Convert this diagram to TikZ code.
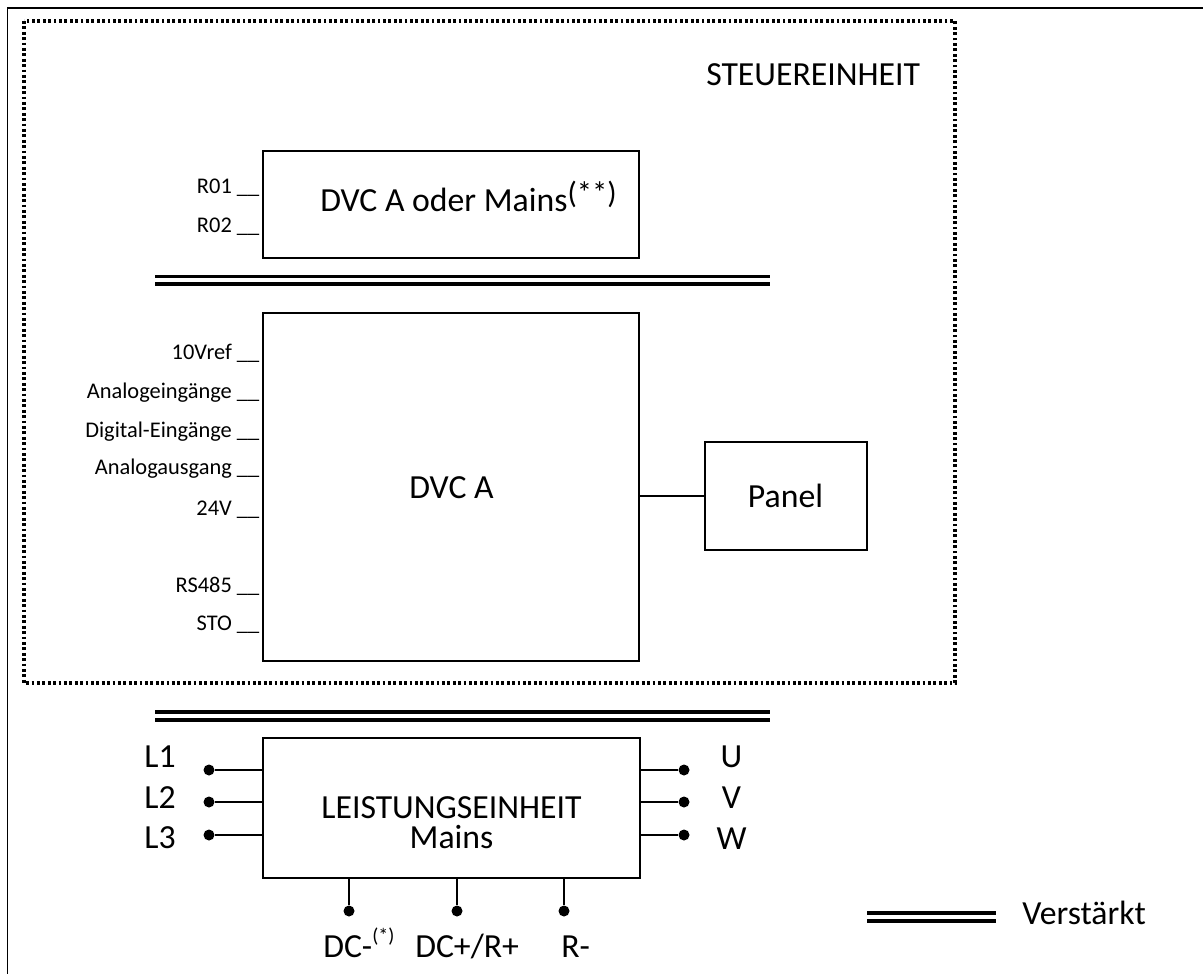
\documentclass[tikz,border=0pt]{standalone}
\usepackage{fontspec}
\setmainfont{Carlito}
\newcommand{\pxu}{0.75pt}
\newcommand{\supbig}[1]{\raisebox{6pt}{\fontsize{23}{25}\selectfont #1}}
\newcommand{\supsmall}[1]{\raisebox{11pt}{\fontsize{15}{17}\selectfont #1}}
\tikzset{
  x=0.75pt,y=-0.75pt,
  blockbox/.style={draw=black,line width=1.3pt,fill=white,inner sep=0pt,outer sep=0pt,anchor=north west},
  biglabel/.style={font=\fontsize{25.3}{30}\selectfont,inner sep=0pt,anchor=base,text=black},
  twolinelabel/.style={font=\fontsize{25.3}{22.5}\selectfont,inner sep=0pt,align=center,text=black},
  smalllabel/.style={font=\fontsize{16.8}{20}\selectfont,inner sep=0pt,anchor=base east,text=black},
  terminal/.style={circle,fill=black,draw=none,minimum size=8.25pt,inner sep=0pt},
  stub/.style={line width=1.1pt},
  reinforced/.style={line width=2.9pt},
  reinforcedthin/.style={line width=2.5pt},
  framedots/.style={line width=2.3pt,dash pattern=on 2.1pt off 1.95pt},
}
\begin{document}
\begin{tikzpicture}
\useasboundingbox (0,0) rectangle (1203,974);
% outer frame
\coordinate (fa) at (7.5,974); \coordinate (fb) at (7.5,8); \coordinate (fc) at (1203,8);
\draw[line width=1.3pt] (fa) -- (fb) -- (fc);
% dotted control-unit frame
\coordinate (da) at (24,21); \coordinate (db) at (955,683);
\draw[framedots] (da) rectangle (db);
\node[biglabel,anchor=base west] (steuer) at (706,85) {STEUEREINHEIT};
% boxes
\node[blockbox,minimum width=376*\pxu,minimum height=107*\pxu] (relay) at (263,151) {};
\draw[line width=2.2pt] (relay.north west) -- (relay.south west);
\node[biglabel,anchor=base west] (relaytxt) at (320,211) {DVC A oder Mains\supbig{(**)}};
\node[blockbox,minimum width=376*\pxu,minimum height=348*\pxu] (dvc) at (263,313) {};
\node[biglabel] (dvctxt) at (451.5,498) {DVC A};
\node[blockbox,minimum width=162*\pxu,minimum height=108*\pxu] (panel) at (705,442) {};
\node[biglabel] (paneltxt) at (785.5,507) {Panel};
\draw[stub] (dvc.east |- panel.west) -- (panel.west);
\node[blockbox,minimum width=377*\pxu,minimum height=140*\pxu] (power) at (263,738) {};
\node[twolinelabel] (powertxt) at (451.5,822.3) {LEISTUNGSEINHEIT\\Mains};
% reinforced bars
\coordinate (b1l) at (155,276.7); \coordinate (b1r) at (770,276.7);
\coordinate (b2l) at (155,284); \coordinate (b2r) at (770,284);
\draw[reinforcedthin] (b1l) -- (b1r); \draw[reinforced] (b2l) -- (b2r);
\coordinate (b3l) at (155,712); \coordinate (b3r) at (770,712);
\coordinate (b4l) at (155,720); \coordinate (b4r) at (770,720);
\draw[reinforcedthin] (b3l) -- (b3r); \draw[reinforced] (b4l) -- (b4r);
% legend
\coordinate (l1l) at (867,913); \coordinate (l1r) at (996,913);
\coordinate (l2l) at (867,920.7); \coordinate (l2r) at (996,920.7);
\draw[reinforcedthin] (l1l) -- (l1r); \draw[reinforced] (l2l) -- (l2r);
\node[biglabel,anchor=base west] (legend) at (1022,924) {Verstärkt};
% small labels
\foreach \n/\t/\yy in {a/R01 \_\_/193,b/R02 \_\_/232,c/10Vref \_\_/359,d/Analogeingänge \_\_/398,e/Digital-Eingänge \_\_/437,f/Analogausgang \_\_/474,g/24V \_\_/515,h/RS485 \_\_/592,i/STO \_\_/630}
  \node[smalllabel] (lab\n) at (259.5,\yy) {\t};
% left terminals
\foreach \n/\yy/\ty in {1/770/767,2/802/808,3/835/848}{
  \node[terminal] (L\n) at (209,\yy) {};
  \draw[stub] (L\n) -- (L\n -| power.west);
  \node[biglabel] (Lt\n) at (160,\ty) {L\n};
}
% right terminals
\foreach \n/\yy/\ty/\t in {1/770/767/U,2/802/808/V,3/835/849/W}{
  \node[terminal] (R\n) at (684,\yy) {};
  \draw[stub] (R\n) -- (R\n -| power.east);
  \node[biglabel] (Rt\n) at (731.5,\ty) {\t};
}
% bottom terminals
\foreach \n/\xx in {1/349,2/457,3/564}{
  \node[terminal] (B\n) at (\xx,911) {};
  \draw[stub] (B\n) -- (B\n |- power.south);
}
\node[biglabel,anchor=base west] (dcm) at (323,957) {DC-\supsmall{(*)}};
\node[biglabel,anchor=base west] (dcp) at (415,957) {DC+/R+};
\node[biglabel,anchor=base west] (rm) at (561,957) {R-};
\end{tikzpicture}
\end{document}
